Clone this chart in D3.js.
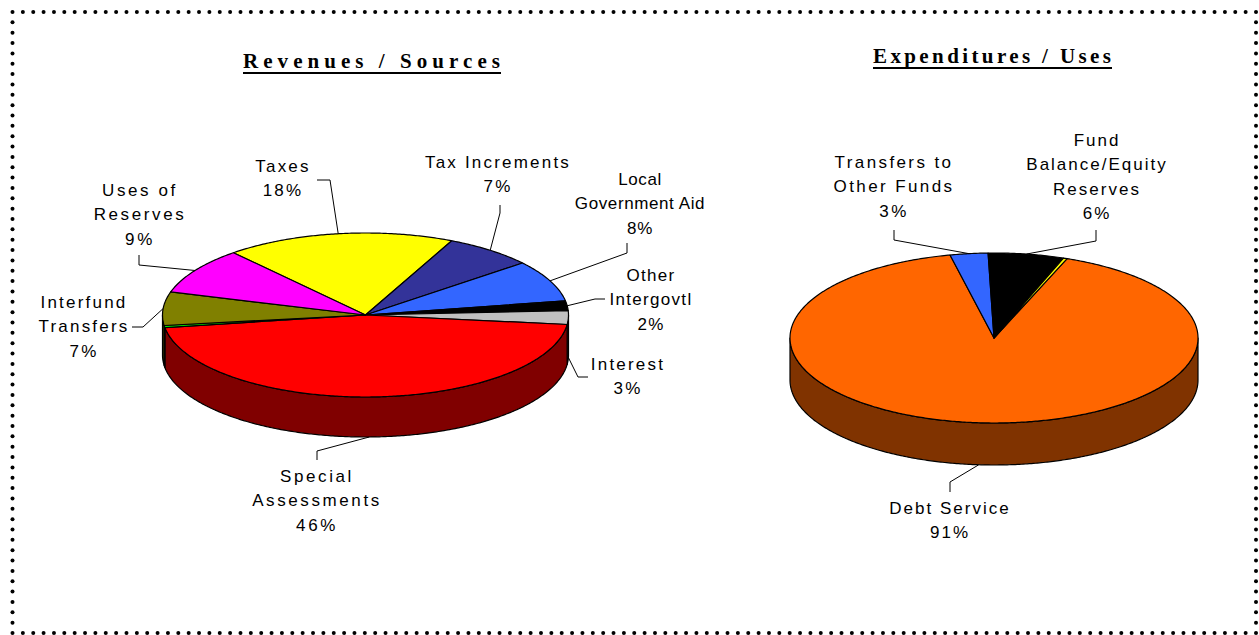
<!DOCTYPE html>
<html>
<head>
<meta charset="utf-8">
<script src="https://cdn.jsdelivr.net/npm/d3@7"></script>
<style>
body { margin: 0; background: #fff; }
svg { display: block; }
.lbl { font-family: Arial, "Liberation Sans", sans-serif; font-size: 17px; fill: #000; }
.ttl { font-family: "Times New Roman", "Liberation Serif", serif; font-weight: bold; font-size: 21px; fill: #000; }
</style>
</head>
<body>
<svg id="chart" width="1259" height="635"></svg>
<script>
// revenues / sources
const revCategories = ["Taxes", "Tax Increments", "Local Government Aid", "Other Intergovtl", "Interest",
    "Special Assessments", "Other", "Interfund Transfers", "Uses of Reserves"]
const revValues = [18.3, 7.1, 8.2, 1.9, 2.7, 45.8, 0.4, 6.6, 9.2]
const revLines = [["Taxes"], ["Tax Increments"], ["Local", "Government Aid"], ["Other", "Intergovtl"], ["Interest"],
    ["Special", "Assessments"], null, ["Interfund", "Transfers"], ["Uses of", "Reserves"]]
const revColors = ["#ffff00", "#333399", "#3366ff", "#000000", "#c0c0c0", "#ff0000", "#00ff00", "#808000", "#ff00ff"]

// expenditures / uses
const expCategories = ["Debt Service", "Transfers to Other Funds", "Fund Balance/Equity Reserves", "Other"]
const expValues = [90.8, 3.0, 6.0, 0.3]
const expLines = [["Debt Service"], ["Transfers to", "Other Funds"], ["Fund", "Balance/Equity", "Reserves"], null]
const expColors = ["#ff6600", "#3366ff", "#000000", "#ffff00"]

// label placement (text anchor + leader elbows), sp = letter spacing override
const revLayout = [
    {x: 283, y: 172, pts: [[330, 180], [317, 180]]},
    {x: 498, y: 168, pts: [[500, 213], [500, 205]]},
    {x: 640, y: 185, pts: [[627, 253], [627, 243]], sp: 0.6},
    {x: 651, y: 281, pts: [[595, 299], [605, 299]], sp: 1.3},
    {x: 628, y: 370, pts: [[578, 377], [588, 377]]},
    {x: 317, y: 482, pts: [[317, 451], [317, 460]], sp: 2.6},
    null,
    {x: 84, y: 308, pts: [[143, 327], [132, 327]]},
    {x: 140, y: 196, pts: [[139, 265], [139, 255]], sp: 2.6}
]
const expLayout = [
    {x: 950, y: 514, pts: [[950, 482], [950, 492]]},
    {x: 894, y: 168, pts: [[894, 240], [894, 230]], sp: 2.4},
    {x: 1097, y: 146, pts: [[1096, 241], [1096, 230]]},
    null
]

const svg = d3.select("#chart")

// dotted frame
const dots = []
const x0 = 12.5, x1 = 1256, y0 = 12, y1 = 633
const nx = Math.round((x1 - x0) / 10.4), ny = Math.round((y1 - y0) / 10.4)
d3.range(nx + 1).forEach(i => {
    const x = x0 + (x1 - x0) * i / nx
    dots.push([x, y0], [x, y1])
})
d3.range(1, ny).forEach(i => {
    const y = y0 + (y1 - y0) * i / ny
    dots.push([x0, y], [x1, y])
})
svg.append("g").selectAll("circle")
    .data(dots)
    .enter()
    .append("circle")
    .attr("cx", d => d[0])
    .attr("cy", d => d[1])
    .attr("r", 2)
    .attr("fill", "#000")

function title(text, x, y, len) {
    svg.append("text")
        .attr("class", "ttl")
        .attr("x", x)
        .attr("y", y)
        .attr("textLength", len)
        .attr("lengthAdjust", "spacing")
        .text(text)
    svg.append("line")
        .attr("x1", x).attr("x2", x + len + 1)
        .attr("y1", y + 5).attr("y2", y + 5)
        .attr("stroke", "#000")
        .attr("stroke-width", 2)
}

title("Revenues / Sources", 243, 68, 257)
title("Expenditures / Uses", 873, 63, 238)

function drawPie(o) {
    const pie = d3.pie()
        .sort(null)
        .value(d => d)
        .startAngle(o.start)
        .endAngle(o.start + 2 * Math.PI)
    const arcs = pie(o.values)
    const total = d3.sum(o.values)

    const pt = (t, dy) => [o.cx + o.rx * Math.sin(t), o.cy - o.ry * Math.cos(t) + (dy || 0)]
    const sample = (a0, a1, dy) => {
        const n = Math.max(2, Math.ceil(Math.abs(a1 - a0) / 0.01))
        return d3.range(n + 1).map(i => pt(a0 + (a1 - a0) * i / n, dy))
    }
    const line = d3.line()
    const shade = c => {
        const r = d3.rgb(c)
        return d3.rgb(r.r * 0.5, r.g * 0.5, r.b * 0.5).formatHex()
    }

    const g = svg.append("g")

    // outer walls, only the front half can be seen
    arcs.forEach((a, i) => {
        [-1, 0, 1].forEach(k => {
            const lo = Math.max(a.startAngle, Math.PI / 2 + 2 * Math.PI * k)
            const hi = Math.min(a.endAngle, 3 * Math.PI / 2 + 2 * Math.PI * k)
            if (hi <= lo) return
            const p = sample(lo, hi, 0).concat(sample(hi, lo, o.depth))
            g.append("path")
                .attr("d", line(p) + "Z")
                .attr("fill", shade(o.colors[i]))
                .attr("stroke", "#000")
                .attr("stroke-width", 1.2)
                .attr("stroke-linejoin", "round")
        })
    })

    // top faces
    arcs.forEach((a, i) => {
        const p = [[o.cx, o.cy]].concat(sample(a.startAngle, a.endAngle, 0))
        g.append("path")
            .attr("d", line(p) + "Z")
            .attr("fill", o.colors[i])
            .attr("stroke", "#000")
            .attr("stroke-width", 1.2)
            .attr("stroke-linejoin", "round")
    })

    // labels with leader lines
    arcs.forEach((a, i) => {
        const lay = o.layout[i]
        if (!lay || !o.lines[i]) return
        const mid = (a.startAngle + a.endAngle) / 2
        const m = ((mid % (2 * Math.PI)) + 2 * Math.PI) % (2 * Math.PI)
        const front = m > Math.PI / 2 && m < 3 * Math.PI / 2
        const start = pt(mid, front ? o.depth : 0)
        g.append("path")
            .attr("d", line([start].concat(lay.pts)))
            .attr("fill", "none")
            .attr("stroke", "#000")
            .attr("stroke-width", 1)

        const txt = o.lines[i].concat([Math.round(a.value / total * 100) + "%"])
        const t = g.append("text")
            .attr("class", "lbl")
            .attr("text-anchor", "middle")
            .style("letter-spacing", (lay.sp != null ? lay.sp : o.spacing) + "px")
        t.selectAll("tspan")
            .data(txt)
            .enter()
            .append("tspan")
            .attr("x", lay.x)
            .attr("y", (d, j) => lay.y + j * 24.4)
            .text(d => d)
    })
}

drawPie({
    values: revValues, colors: revColors, lines: revLines, layout: revLayout,
    cx: 365.5, cy: 315, rx: 203, ry: 82, depth: 40,
    start: -40.6 * Math.PI / 180, spacing: 2.2
})

drawPie({
    values: expValues, colors: expColors, lines: expLines, layout: expLayout,
    cx: 994, cy: 338, rx: 204, ry: 85, depth: 42,
    start: 21 * Math.PI / 180, spacing: 2
})
</script>
</body>
</html>
